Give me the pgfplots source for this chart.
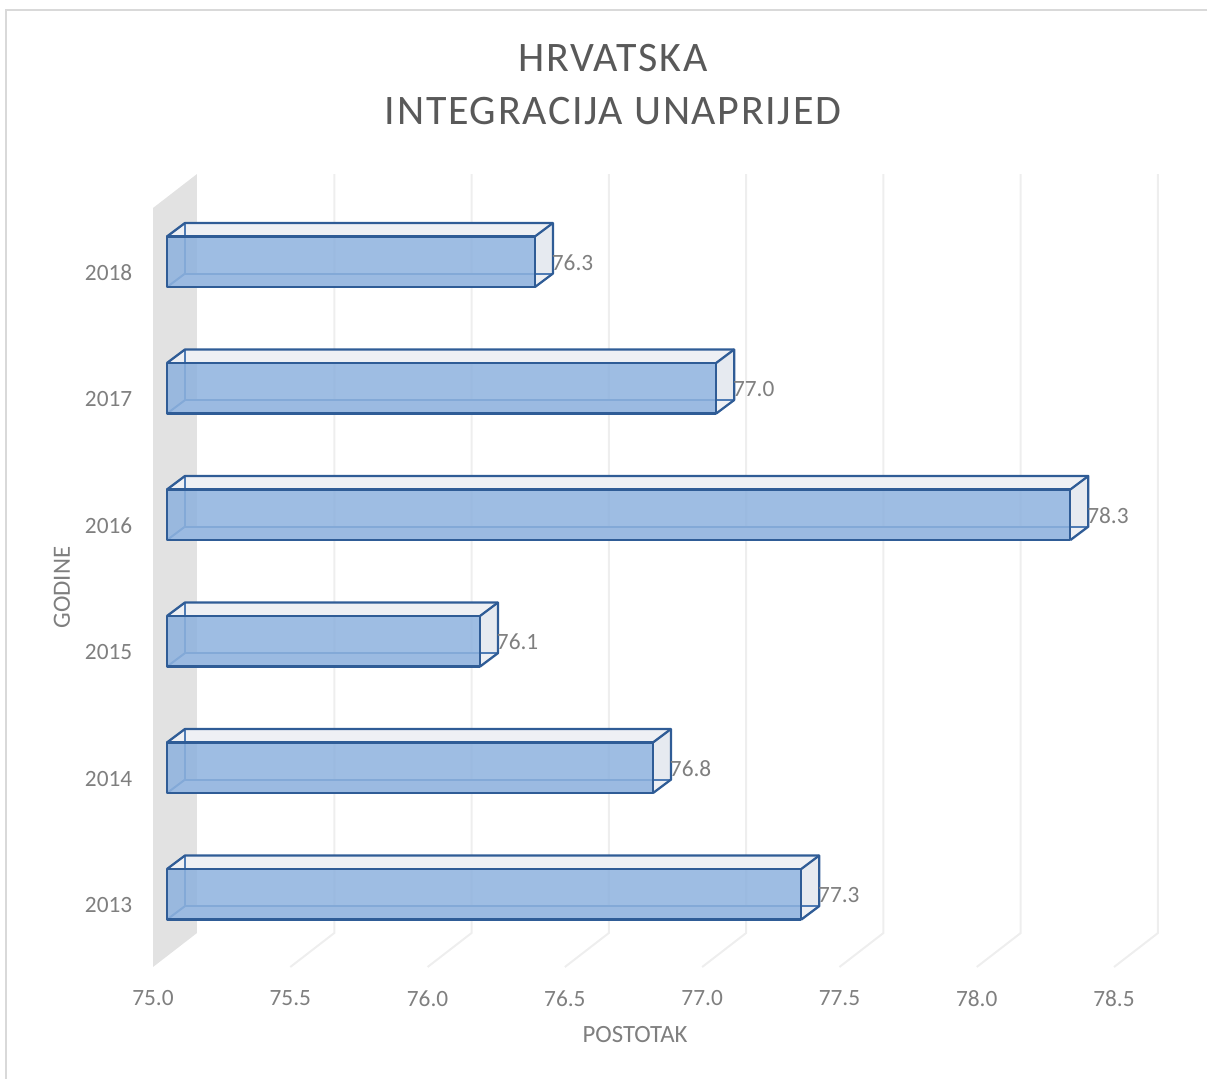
\documentclass[border=0pt]{standalone}
\usepackage{pgfplots}
\usepackage{pgfplotstable}
\usepackage{fontspec}
\setmainfont{Carlito}
\newfontfamily\titlefont[LetterSpace=4]{Carlito}
\pgfplotsset{compat=1.18}
\definecolor{txt}{HTML}{595959}
\definecolor{lab}{HTML}{7F7F7F}
\definecolor{wallc}{HTML}{E2E2E2}
\definecolor{gridc}{HTML}{EEEEEE}
\definecolor{edgec}{HTML}{2F5C96}
\definecolor{inedge}{HTML}{4F7CB5}
\definecolor{frontc}{HTML}{8DB1DE}
\definecolor{sidec}{HTML}{E6EAF0}
\definecolor{topc}{HTML}{EEF0F4}
\definecolor{framec}{HTML}{D9D9D9}
\pgfplotstableread{
year value
2013 77.31
2014 76.77
2015 76.14
2016 78.29
2017 77.00
2018 76.34
}\datatable
\newcommand{\onebar}[2]{%
 \pgfmathsetmacro\xfl{75+0.05098}\pgfmathsetmacro\xbl{75+0.11653}%
 \pgfmathsetmacro\xfr{#2+0.05098}\pgfmathsetmacro\xbr{#2+0.11653}%
 \pgfmathsetmacro\yfa{#1+0.075-0.2}\pgfmathsetmacro\yfb{#1+0.075+0.2}%
 \pgfmathsetmacro\yba{#1+0.1817-0.2}\pgfmathsetmacro\ybb{#1+0.1817+0.2}%
 % top, right and bottom faces
 \addplot[draw=none,fill=topc] coordinates {(\xfl,\yfb)(\xfr,\yfb)(\xbr,\ybb)(\xbl,\ybb)} --cycle;
 \addplot[draw=none,fill=sidec] coordinates {(\xfr,\yfa)(\xbr,\yba)(\xbr,\ybb)(\xfr,\yfb)} --cycle;
 \addplot[draw=none,fill=topc] coordinates {(\xfl,\yfa)(\xbl,\yba)(\xbr,\yba)(\xfr,\yfa)} --cycle;
 % hidden back edges
 \addplot[draw=inedge,line width=1.5pt] coordinates {(\xbl,\ybb)(\xbl,\yba)(\xbr,\yba)};
 \addplot[draw=inedge,line width=1.5pt] coordinates {(\xfl,\yfa)(\xbl,\yba)};
 % front face
 \addplot[draw=none,fill=frontc,fill opacity=0.85] coordinates {(\xfl,\yfa)(\xfr,\yfa)(\xfr,\yfb)(\xfl,\yfb)} --cycle;
 % visible edges
 \addplot[draw=edgec,line width=1.7pt,line join=round] coordinates {(\xfl,\yfb)(\xbl,\ybb)(\xbr,\ybb)(\xbr,\yba)(\xfr,\yfa)};
 \addplot[draw=edgec,line width=1.7pt,line join=round] coordinates {(\xfr,\yfb)(\xbr,\ybb)};
 \addplot[draw=edgec,line width=1.7pt,line join=round] coordinates {(\xfl,\yfa)(\xfr,\yfa)(\xfr,\yfb)(\xfl,\yfb)} --cycle;
}
\newcommand{\onegrid}[1]{%
 \pgfmathsetmacro\xg{#1+0.1602}%
 \addplot[draw=gridc,line width=1.5pt] coordinates {(#1,2012.5)(\xg,2012.7688)(\xg,2018.7688)};
}
\begin{document}
\begin{tikzpicture}
\path[use as bounding box] (0,0) rectangle (906.75pt,-809.25pt);
\begin{scope}[x=0.75pt,y=-0.75pt]
\draw[framec,line width=1.5pt] (1207,10) -- (6,10) -- (6,1079);
\node[text=txt,font=\fontsize{31.5}{31.5}\selectfont\titlefont] at (613,58) {HRVATSKA};
\node[text=txt,font=\fontsize{31.5}{31.5}\selectfont\titlefont] at (613,111) {INTEGRACIJA UNAPRIJED};
\end{scope}
\begin{axis}[
  at={(114.75pt,-725.25pt)},anchor=south west,
  scale only axis,width=720.75pt,height=569.25pt,
  xmin=75,xmax=78.5,ymin=2012.5,ymax=2018.5,
  clip=false,axis line style={draw=none},
  xtick={75,75.5,...,78.5},
  ytick={2013,...,2018},
  major tick length=0pt,
  tick label style={text=lab,font=\fontsize{17.5}{17.5}\selectfont},
  xticklabel style={yshift=-14pt,/pgf/number format/.cd,fixed,fixed zerofill,precision=1,assume math mode=true},
  yticklabel style={xshift=-12pt,yshift=-1pt,/pgf/number format/.cd,1000 sep={},assume math mode=true},
  xlabel={POSTOTAK},ylabel={GODINE},
  label style={text=lab,font=\fontsize{18.6}{18.6}\selectfont},
  x label style={at={(axis description cs:0.5016,-0.0883)},anchor=center},
  y label style={at={(axis description cs:-0.0947,0.5)},anchor=center},
]
\addplot[fill=wallc,draw=none] coordinates {(75,2012.5)(75.1602,2012.7688)(75.1602,2018.7688)(75,2018.5)} --cycle;
\onegrid{75.5}\onegrid{76.0}\onegrid{76.5}\onegrid{77.0}\onegrid{77.5}\onegrid{78.0}\onegrid{78.5}
\onebar{2018}{76.34}
\onebar{2017}{77.00}
\onebar{2016}{78.29}
\onebar{2015}{76.14}
\onebar{2014}{76.77}
\onebar{2013}{77.31}
\addplot[only marks,mark=none,point meta=x,
  nodes near coords,
  nodes near coords align={anchor=west},
  nodes near coords style={text=lab,font=\fontsize{17.5}{17.5}\selectfont,inner sep=0pt,xshift=23pt,yshift=6.5pt,
   /pgf/number format/.cd,fixed,fixed zerofill,precision=1,assume math mode=true},
] table[x=value,y=year] {\datatable};
\end{axis}
\end{tikzpicture}
\end{document}
